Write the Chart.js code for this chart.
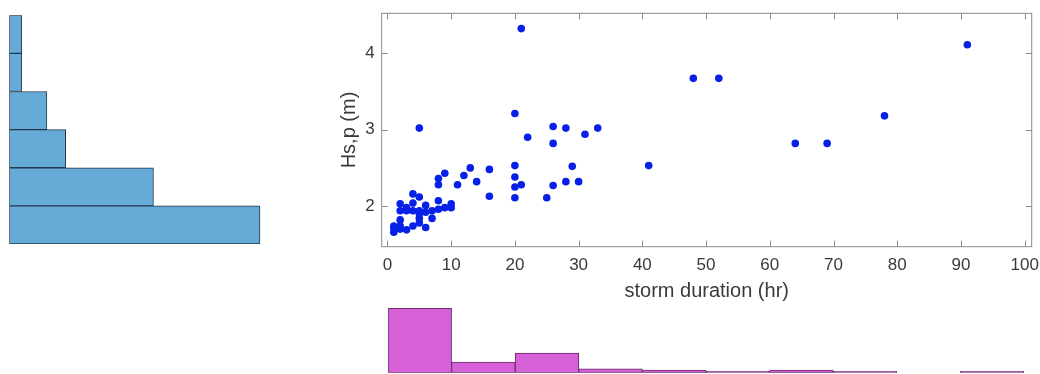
<!DOCTYPE html>
<html>
<head>
<meta charset="utf-8">
<script src="https://cdn.jsdelivr.net/npm/chart.js@4.4.0/dist/chart.umd.min.js"></script>
<style>
  body { margin: 0; background: #fff; }
  #wrap { position: relative; width: 1040px; height: 374px; overflow: hidden; }
  canvas { position: absolute; }
</style>
</head>
<body>
<div id="wrap">
  <canvas id="hsHist" width="262" height="232" style="left:8px;top:14px;width:262px;height:232px"></canvas>
  <canvas id="scatter" width="703" height="303" style="left:337px;top:0px;width:703px;height:303px"></canvas>
  <canvas id="durHist" width="640" height="74" style="left:386px;top:300px;width:640px;height:74px"></canvas>
</div>
<script>
// storm duration (hr) vs peak significant wave height Hs,p (m)
const duration = [1, 1, 1, 2, 2, 2, 2, 2, 3, 3, 3, 4, 4, 4, 4, 5, 5, 5, 5, 5, 5,
  6, 6, 6, 7, 7, 8, 8, 8, 8, 9, 9, 10, 10, 11, 12, 13, 14, 16, 16,
  20, 20, 20, 20, 20, 21, 21, 22, 25, 26, 26, 26, 28, 28, 29, 30, 31, 33,
  41, 48, 52, 64, 69, 78, 91];
const hsp = [1.74, 1.71, 1.66, 2.03, 1.94, 1.82, 1.74, 1.70, 1.98, 1.94, 1.69, 2.16, 2.04, 1.94, 1.74, 3.02, 2.12, 1.94, 1.90, 1.84, 1.78,
  2.01, 1.92, 1.72, 1.94, 1.84, 2.36, 2.28, 2.07, 1.96, 2.43, 1.98, 2.03, 1.98, 2.28, 2.40, 2.50, 2.32, 2.48, 2.13,
  3.21, 2.53, 2.38, 2.25, 2.11, 4.32, 2.28, 2.90, 2.11, 3.04, 2.82, 2.27, 3.02, 2.32, 2.52, 2.32, 2.94, 3.02,
  2.53, 3.67, 3.67, 2.82, 2.82, 3.18, 4.11];

// histogram of Hs,p (0.5 m bins)
const hsEdges = [1.5, 2, 2.5, 3, 3.5, 4, 4.5];
const hsCounts = [40, 23, 9, 6, 2, 2];

// histogram of storm duration (10 hr bins)
const durEdges = [0, 10, 20, 30, 40, 50, 60, 70, 80, 90, 100];
const durCounts = [49, 8, 15, 3, 2, 1, 2, 1, 0, 1];

const xTicks = [0, 10, 20, 30, 40, 50, 60, 70, 80, 90, 100];
const yTicks = [2, 3, 4];

const axisColor = '#8a8a8a';
const textColor = '#3a3a3a';
Chart.defaults.font.family = '"Liberation Sans", Arial, sans-serif';
Chart.defaults.color = textColor;

function binLabels(edges) {
  const out = [];
  for (let i = 0; i < edges.length - 1; i++) out.push(edges[i] + '-' + edges[i + 1]);
  return out;
}

// box around the axes with inward tick marks on all four sides
const boxTicks = {
  id: 'boxTicks',
  afterDraw(chart) {
    const { ctx, chartArea: a, scales: { x, y } } = chart;
    const len = 6;
    ctx.save();
    ctx.strokeStyle = axisColor;
    ctx.lineWidth = 1;
    ctx.strokeRect(a.left, a.top, a.width, a.height);
    ctx.beginPath();
    x.ticks.forEach(t => {
      const px = Math.round(x.getPixelForValue(t.value)) + 0.5;
      ctx.moveTo(px, a.bottom); ctx.lineTo(px, a.bottom - len);
      ctx.moveTo(px, a.top); ctx.lineTo(px, a.top + len);
    });
    y.ticks.forEach(t => {
      const py = Math.round(y.getPixelForValue(t.value)) + 0.5;
      ctx.moveTo(a.left, py); ctx.lineTo(a.left + len, py);
      ctx.moveTo(a.right, py); ctx.lineTo(a.right - len, py);
    });
    ctx.stroke();
    ctx.restore();
  }
};

const hidden = { display: false };

new Chart(document.getElementById('hsHist'), {
  type: 'bar',
  data: {
    labels: binLabels(hsEdges),
    datasets: [{
      data: hsCounts,
      backgroundColor: '#66aad8',
      borderColor: '#22384a',
      borderWidth: 1,
      borderSkipped: false,
      barPercentage: 1,
      categoryPercentage: 1
    }]
  },
  options: {
    indexAxis: 'y',
    responsive: false,
    animation: false,
    devicePixelRatio: 1,
    layout: { padding: { left: 1.3, right: 0, top: 1.2, bottom: 2 } },
    plugins: { legend: hidden, tooltip: { enabled: false } },
    scales: {
      x: { display: false, min: 0, max: 41.6 },
      y: { display: false, reverse: true }
    }
  }
});

new Chart(document.getElementById('scatter'), {
  type: 'scatter',
  data: {
    datasets: [{
      data: duration.map((d, i) => ({ x: d, y: hsp[i] })),
      backgroundColor: '#0620e8',
      borderColor: '#0620e8',
      pointRadius: 3.8,
      pointBorderWidth: 0
    }]
  },
  options: {
    responsive: false,
    animation: false,
    devicePixelRatio: 1,
    layout: { padding: { left: 0, right: 8.3, top: 13.3, bottom: 0 } },
    plugins: { legend: hidden, tooltip: { enabled: false } },
    scales: {
      x: {
        type: 'linear',
        min: -0.9,
        max: 101.1,
        afterBuildTicks: s => { s.ticks = xTicks.map(v => ({ value: v })); },
        afterFit: s => { s.height = 56.3; s.paddingLeft = 0; s.paddingRight = 0; },
        grid: { display: false, drawTicks: false },
        border: { display: false },
        ticks: { font: { size: 17 }, padding: 8, maxRotation: 0, autoSkip: false },
        title: { display: true, text: 'storm duration (hr)', font: { size: 20 }, padding: 0 }
      },
      y: {
        type: 'linear',
        min: 1.47,
        max: 4.52,
        afterBuildTicks: s => { s.ticks = yTicks.map(v => ({ value: v })); },
        afterFit: s => { s.width = 44.7; s.paddingTop = 0; s.paddingBottom = 0; },
        grid: { display: false, drawTicks: false },
        border: { display: false },
        ticks: { font: { size: 17 }, padding: 7 },
        title: { display: true, text: 'Hs,p (m)', font: { size: 20 }, padding: 0 }
      }
    }
  },
  plugins: [boxTicks]
});

new Chart(document.getElementById('durHist'), {
  type: 'bar',
  data: {
    labels: binLabels(durEdges),
    datasets: [{
      data: durCounts,
      backgroundColor: '#d660d8',
      borderColor: '#6a2c6c',
      borderWidth: 1,
      borderSkipped: false,
      barPercentage: 1,
      categoryPercentage: 1
    }]
  },
  options: {
    responsive: false,
    animation: false,
    devicePixelRatio: 1,
    layout: { padding: { left: 2, right: 2, top: 0, bottom: 1.3 } },
    plugins: { legend: hidden, tooltip: { enabled: false } },
    scales: {
      x: { display: false },
      y: { display: false, min: 0, max: 55.3 }
    }
  }
});
</script>
</body>
</html>
